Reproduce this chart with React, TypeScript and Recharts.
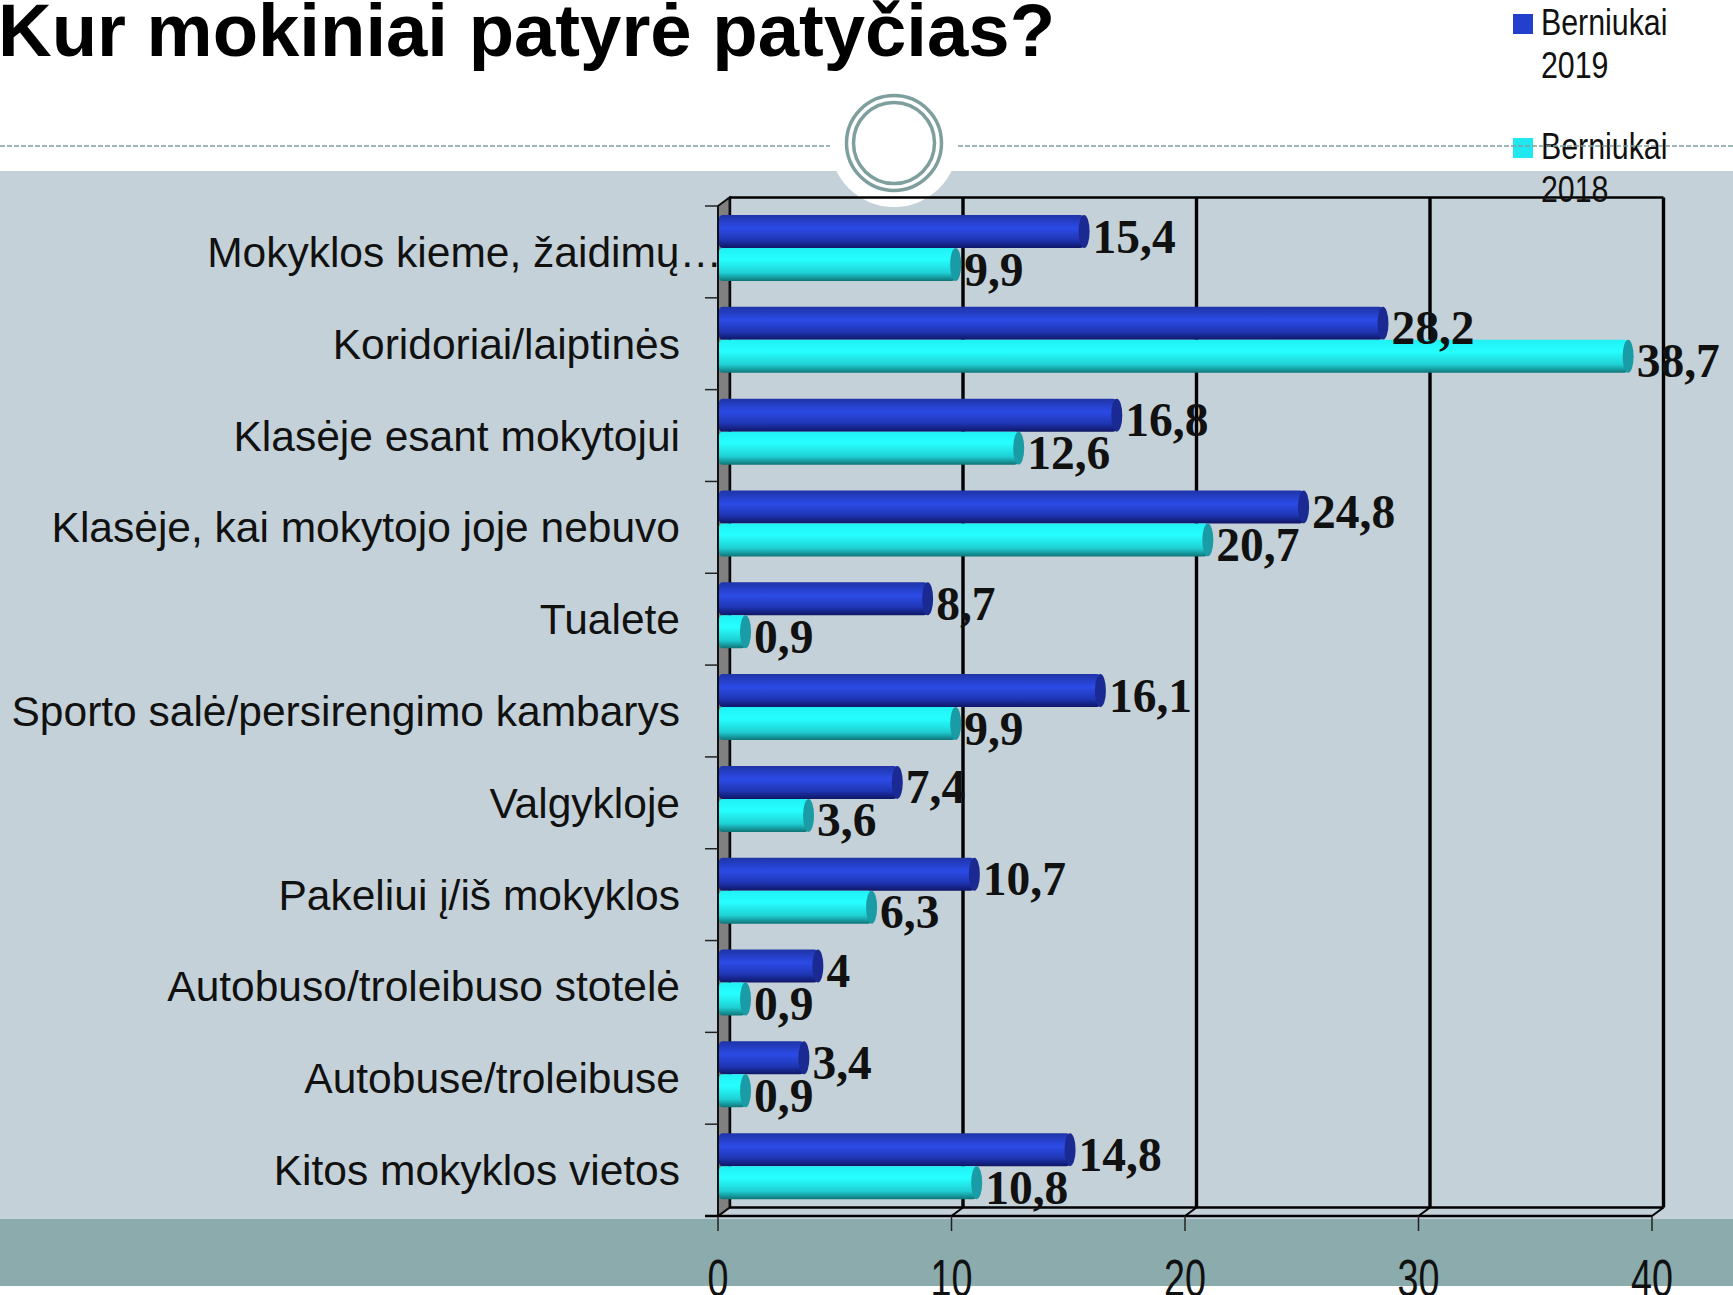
import { Bar, BarChart, CartesianGrid, LabelList, Legend, usePlotArea, XAxis, YAxis } from "recharts";

const categories = [
  "Mokyklos kieme, žaidimų…",
  "Koridoriai/laiptinės",
  "Klasėje esant mokytojui",
  "Klasėje, kai mokytojo joje nebuvo",
  "Tualete",
  "Sporto salė/persirengimo kambarys",
  "Valgykloje",
  "Pakeliui į/iš mokyklos",
  "Autobuso/troleibuso stotelė",
  "Autobuse/troleibuse",
  "Kitos mokyklos vietos"
];
const boys2019 = [15.4, 28.2, 16.8, 24.8, 8.7, 16.1, 7.4, 10.7, 4, 3.4, 14.8];
const boys2018 = [9.9, 38.7, 12.6, 20.7, 0.9, 9.9, 3.6, 6.3, 0.9, 0.9, 10.8];
const xTicks = [0, 10, 20, 30, 40];

const data = categories.map((name, i) => ({ name, boys2019: boys2019[i], boys2018: boys2018[i] }));

const DEPTH_X = 11.5;
const DEPTH_Y = 8.5;
const BAR_SHIFT = -4;

function Cylinder({ x, y, width, height, capFill, gradient }: any) {
  const top = y + BAR_SHIFT;
  const capX = x + width + 6.5;
  return (
    <g>
      <rect x={x + 1} y={top} width={capX - x - 1} height={height} rx={4} fill={`url(#${gradient})`} />
      <ellipse cx={capX} cy={top + height / 2} rx={5.5} ry={height / 2} fill={capFill} />
    </g>
  );
}

function BlueBar(props: any) {
  return <Cylinder {...props} gradient="blueTube" capFill="#1a2a92" />;
}

function CyanBar(props: any) {
  return <Cylinder {...props} gradient="cyanTube" capFill="#1a9ca6" />;
}

function ValueLabel({ x, y, width, height, value }: any) {
  return (
    <text
      x={x + width + 15}
      y={y + BAR_SHIFT + height / 2 + 21}
      fontFamily="'Liberation Serif'"
      fontWeight="bold"
      fontSize={47.5}
      fill="#111"
    >
      {String(value).replace(".", ",")}
    </text>
  );
}

function CategoryTick({ y, payload }: any) {
  const cut = payload.value.endsWith("…");
  return (
    <text
      x={cut ? 722 : 680}
      y={y + 15}
      textAnchor="end"
      fontFamily="'Liberation Sans'"
      fontSize={42.5}
      fill="#111"
    >
      {payload.value}
    </text>
  );
}

function ValueTick({ x, y, payload }: any) {
  return (
    <text
      transform={`translate(${x},${y + 63}) scale(0.74,1)`}
      textAnchor="middle"
      fontFamily="'Liberation Sans'"
      fontSize={51}
      fill="#111"
    >
      {payload.value}
    </text>
  );
}

function BackLine({ x1, y1, y2, key }: any) {
  return (
    <g key={key}>
      <line x1={x1 + DEPTH_X} x2={x1 + DEPTH_X} y1={y1 - DEPTH_Y} y2={y2 - DEPTH_Y} stroke="#000" strokeWidth={3.4} />
      <line x1={x1} x2={x1 + DEPTH_X} y1={y2} y2={y2 - DEPTH_Y} stroke="#000" strokeWidth={2} />
    </g>
  );
}

// side wall, floor and the band ticks of the fake 3D box
function Box() {
  const area = usePlotArea();
  if (!area) return null;
  const { x, y, width, height } = area;
  const step = height / categories.length;
  return (
    <g>
      <polygon
        points={`${x},${y} ${x + DEPTH_X},${y - DEPTH_Y} ${x + DEPTH_X},${y + height - DEPTH_Y} ${x},${y + height}`}
        fill="#808080"
        stroke="#111"
        strokeWidth={2}
      />
      <line x1={x + DEPTH_X} x2={x + width + DEPTH_X} y1={y - DEPTH_Y} y2={y - DEPTH_Y} stroke="#000" strokeWidth={2.5} />
      <line x1={x + DEPTH_X} x2={x + width + DEPTH_X} y1={y + height - DEPTH_Y} y2={y + height - DEPTH_Y} stroke="#000" strokeWidth={2.5} />
      <line x1={x - 13} x2={x + width} y1={y + height} y2={y + height} stroke="#000" strokeWidth={2.5} />
      {categories.map((c, i) => (
        <line key={c} x1={x - 13} x2={x} y1={y + step * i} y2={y + step * i} stroke="#222" strokeWidth={1.5} />
      ))}
    </g>
  );
}

function LegendBox({ payload }: any) {
  return (
    <div>
      {(payload || []).map((item: any) => {
        const [word, year] = item.value.split(" ");
        return (
          <div key={item.value} style={{ position: "relative", height: 124 }}>
            <div style={{ position: "absolute", left: 0, top: 13, width: 20, height: 20, background: item.color }} />
            <div
              style={{
                position: "absolute",
                left: 28,
                top: 0,
                font: "37px/43px 'Liberation Sans'",
                color: "#111",
                transform: "scaleX(0.82)",
                transformOrigin: "left top",
                whiteSpace: "nowrap"
              }}
            >
              {word}
              <br />
              {year}
            </div>
          </div>
        );
      })}
    </div>
  );
}

export default function App() {
  return (
    <div style={{ position: "absolute", left: 0, top: 0, width: 1733, height: 1295, overflow: "hidden", background: "#fff" }}>
      <div style={{ position: "absolute", left: 0, top: 171, width: 1733, height: 1048, background: "#c5d1d8" }} />
      <div style={{ position: "absolute", left: 0, top: 1219, width: 1733, height: 67, background: "#8babac" }} />
      <svg width={1733} height={300} style={{ position: "absolute", left: 0, top: 0 }}>
        <circle cx={894} cy={143} r={64} fill="#fff" />
        <circle cx={894} cy={143} r={47.5} fill="#fff" stroke="#7f9f9f" strokeWidth={3.5} />
        <circle cx={894} cy={143} r={40.5} fill="#fff" stroke="#7f9f9f" strokeWidth={3.5} />
      </svg>
      <div
        style={{
          position: "absolute",
          left: -2,
          top: -9,
          font: "bold 74.3px/80px 'Liberation Sans'",
          color: "#000",
          whiteSpace: "nowrap"
        }}
      >
        Kur mokiniai patyrė patyčias?
      </div>
      <div style={{ position: "absolute", left: 0, top: 0 }}>
        <BarChart
          width={1733}
          height={1295}
          data={data}
          layout="vertical"
          margin={{ top: 206, right: 81, bottom: 0, left: 0 }}
          barSize={33}
          barGap={0}
          style={{ overflow: "visible" }}
        >
          <defs>
            <linearGradient id="blueTube" x1="0" y1="0" x2="0" y2="1">
              <stop offset="0" stopColor="#1f34a8" />
              <stop offset="0.4" stopColor="#2b4be6" />
              <stop offset="0.75" stopColor="#1f36b4" />
              <stop offset="1" stopColor="#0f1666" />
            </linearGradient>
            <linearGradient id="cyanTube" x1="0" y1="0" x2="0" y2="1">
              <stop offset="0" stopColor="#20f0f4" />
              <stop offset="0.35" stopColor="#26ffff" />
              <stop offset="0.75" stopColor="#1fd0d4" />
              <stop offset="1" stopColor="#0f7478" />
            </linearGradient>
          </defs>
          <Box />
          <CartesianGrid horizontal={false} vertical={BackLine as any} />
          <XAxis
            type="number"
            domain={[0, 40]}
            ticks={xTicks}
            height={79}
            tickSize={15}
            axisLine={false}
            tickLine={{ stroke: "#222", strokeWidth: 1.5 }}
            tick={ValueTick}
          />
          <YAxis
            type="category"
            dataKey="name"
            width={718}
            axisLine={false}
            tickLine={false}
            interval={0}
            tick={CategoryTick}
          />
          <Legend
            layout="horizontal"
            verticalAlign="middle"
            itemSorter={null}
            content={LegendBox}
            wrapperStyle={{ position: "absolute", left: 1513, top: 1, width: 200, height: 240 }}
          />
          <Bar dataKey="boys2019" name="Berniukai 2019" fill="#2340cc" shape={BlueBar} isAnimationActive={false}>
            <LabelList dataKey="boys2019" content={ValueLabel} />
          </Bar>
          <Bar dataKey="boys2018" name="Berniukai 2018" fill="#1fe8f0" shape={CyanBar} isAnimationActive={false}>
            <LabelList dataKey="boys2018" content={ValueLabel} />
          </Bar>
        </BarChart>
      </div>
      <svg width={1733} height={150} style={{ position: "absolute", left: 0, top: 0, pointerEvents: "none" }}>
        <line x1={0} x2={830} y1={146} y2={146} stroke="#7f9f9f" strokeWidth={1.6} strokeDasharray="5 2" />
        <line x1={958} x2={1733} y1={146} y2={146} stroke="#7f9f9f" strokeWidth={1.6} strokeDasharray="5 2" />
      </svg>
    </div>
  );
}
